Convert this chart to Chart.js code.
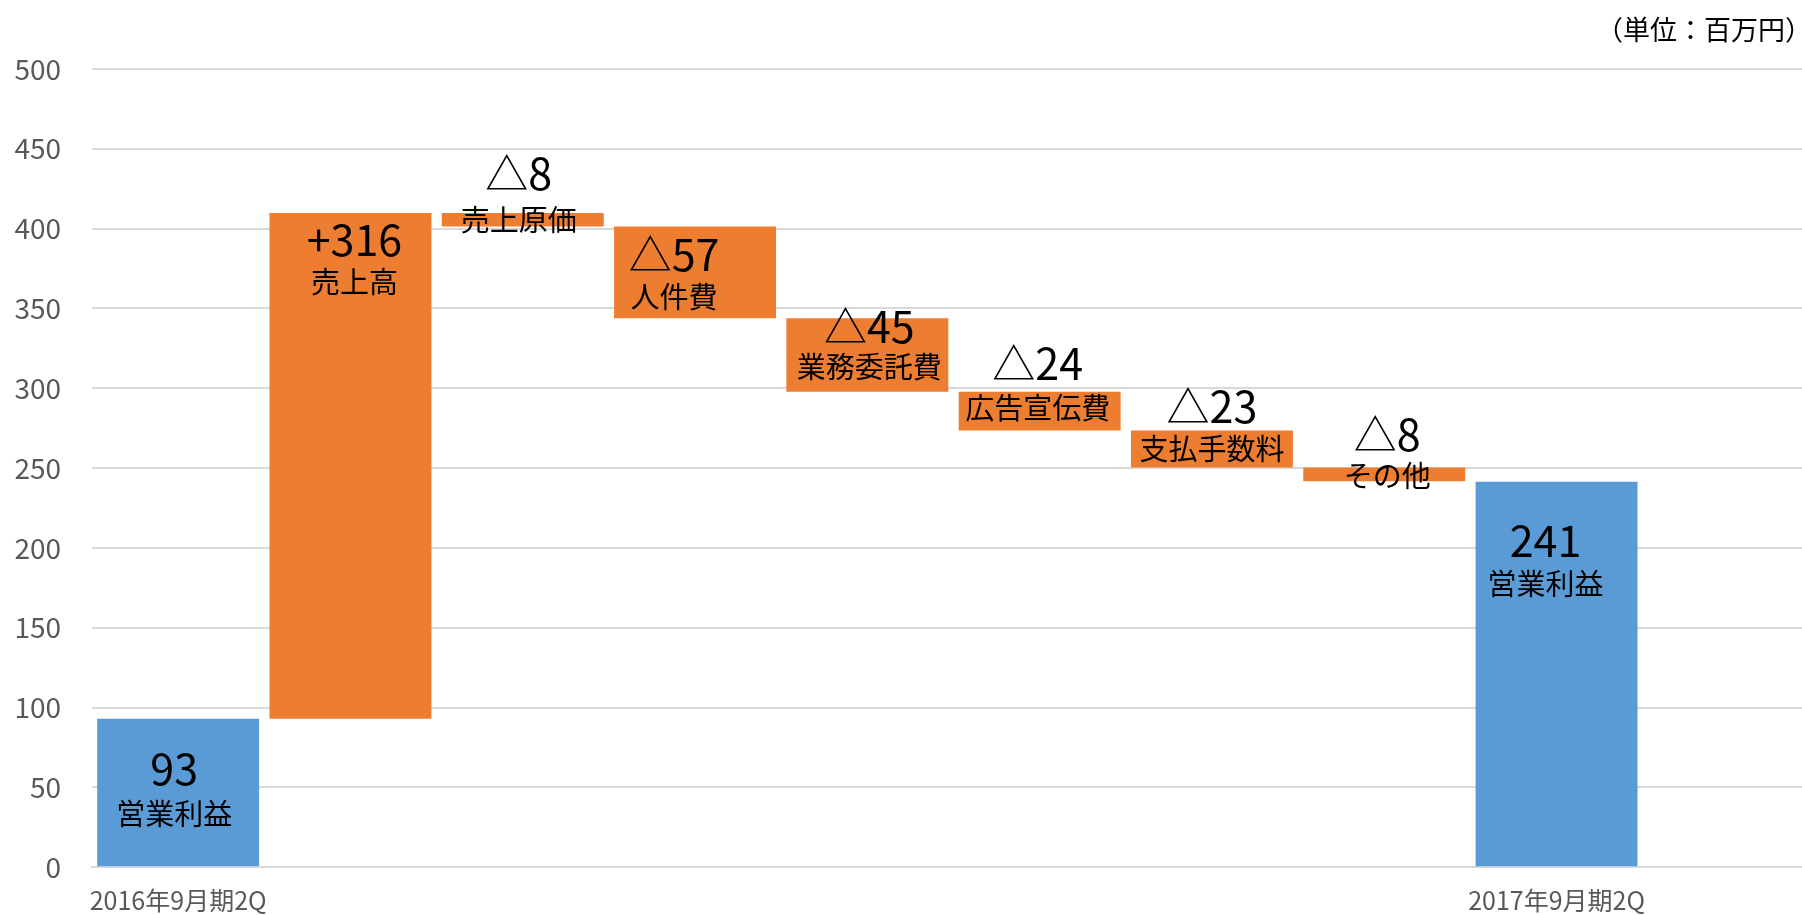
<!DOCTYPE html>
<html>
<head>
<meta charset="utf-8">
<title>営業利益 増減</title>
<script src="https://cdn.jsdelivr.net/npm/chart.js@4"></script>
<style>
  html, body { margin: 0; padding: 0; overflow: hidden; background: #fff; }
  #wrap { width: 1815px; height: 915px; }
</style>
</head>
<body>
<div id="wrap"><canvas id="waterfall"></canvas></div>

<script>
  // axis labels (only the two totals carry one, last slot is the empty tail)
  const axisLabels = ['2016年9月期2Q', '', '', '', '', '', '', '', '2017年9月期2Q', ''];
  const barNames = ['営業利益', '売上高', '売上原価', '人件費', '業務委託費', '広告宣伝費', '支払手数料', 'その他', '営業利益'];
  const valueTexts = ['93', '+316', '△8', '△57', '△45', '△24', '△23', '△8', '241'];
  const barLow = [0, 93, 401.4, 343.8, 297.9, 273.5, 250.3, 241.7, 0];
  const barHigh = [93, 409.8, 409.8, 401.4, 343.8, 297.9, 273.5, 250.3, 241.5];
  const barKind = ['total', 'up', 'down', 'down', 'down', 'down', 'down', 'down', 'total'];
  const yTicks = [0, 50, 100, 150, 200, 250, 300, 350, 400, 450, 500];

  // hand placed labels: [dx, value dy, name dy] from the bar top
  const labelPlace = [
    [-4, 50, 95], [4, 27, 69], [-4, -39, 7], [-21, 28, 71], [2, 8, 49],
    [-2, -28, 16], [0, -24, 18], [3, -33, 8], [-11, 59, 102]
  ];

  const colors = {total: '#5B9BD5', up: '#ED7D31', down: '#ED7D31'};
  const font = '"Noto Sans CJK JP", "Noto Sans", sans-serif';

  const barLabels = {
    id: 'barLabels',
    afterDatasetsDraw(chart) {
      const ctx = chart.ctx;
      const meta = chart.getDatasetMeta(0);
      ctx.save();
      ctx.fillStyle = '#000';
      ctx.textAlign = 'center';
      ctx.textBaseline = 'middle';
      meta.data.forEach((bar, i) => {
        if (i >= barNames.length) return;
        const [dx, vdy, ndy] = labelPlace[i];
        ctx.font = '43px ' + font;
        ctx.fillText(valueTexts[i], bar.x + dx, bar.y + vdy);
        ctx.font = '29px ' + font;
        ctx.fillText(barNames[i], bar.x + dx, bar.y + ndy);
      });
      // unit note
      ctx.font = '27px ' + font;
      ctx.textAlign = 'right';
      ctx.fillText('（単位：百万円）', 1812, 30);
      ctx.restore();
    }
  };

  new Chart(document.getElementById('waterfall'), {
    type: 'bar',
    data: {
      labels: axisLabels,
      datasets: [{
        data: barLow.map((lo, i) => [lo, barHigh[i]]).concat([null]),
        backgroundColor: barKind.map(k => colors[k]),
        borderWidth: 0,
        categoryPercentage: 1,
        barPercentage: 0.94
      }]
    },
    options: {
      responsive: true,
      maintainAspectRatio: false,
      animation: false,
      layout: {padding: {top: 69, right: 0, bottom: 0, left: 0}},
      plugins: {legend: {display: false}, tooltip: {enabled: false}},
      scales: {
        x: {
          grid: {display: false, drawTicks: false},
          border: {display: true, color: '#d9d9d9', width: 2},
          ticks: {color: '#595959', font: {family: font, size: 25}, padding: 18, maxRotation: 0, autoSkip: false},
          afterFit: s => { s.height = 47; }
        },
        y: {
          min: 0,
          max: 500,
          afterBuildTicks: s => { s.ticks = yTicks.map(v => ({value: v})); },
          grid: {color: '#d9d9d9', lineWidth: 2, drawTicks: false},
          border: {display: false},
          ticks: {color: '#595959', font: {family: font, size: 28}, padding: 31},
          afterFit: s => { s.width = 92; }
        }
      }
    },
    plugins: [barLabels]
  });
</script>
</body>
</html>
